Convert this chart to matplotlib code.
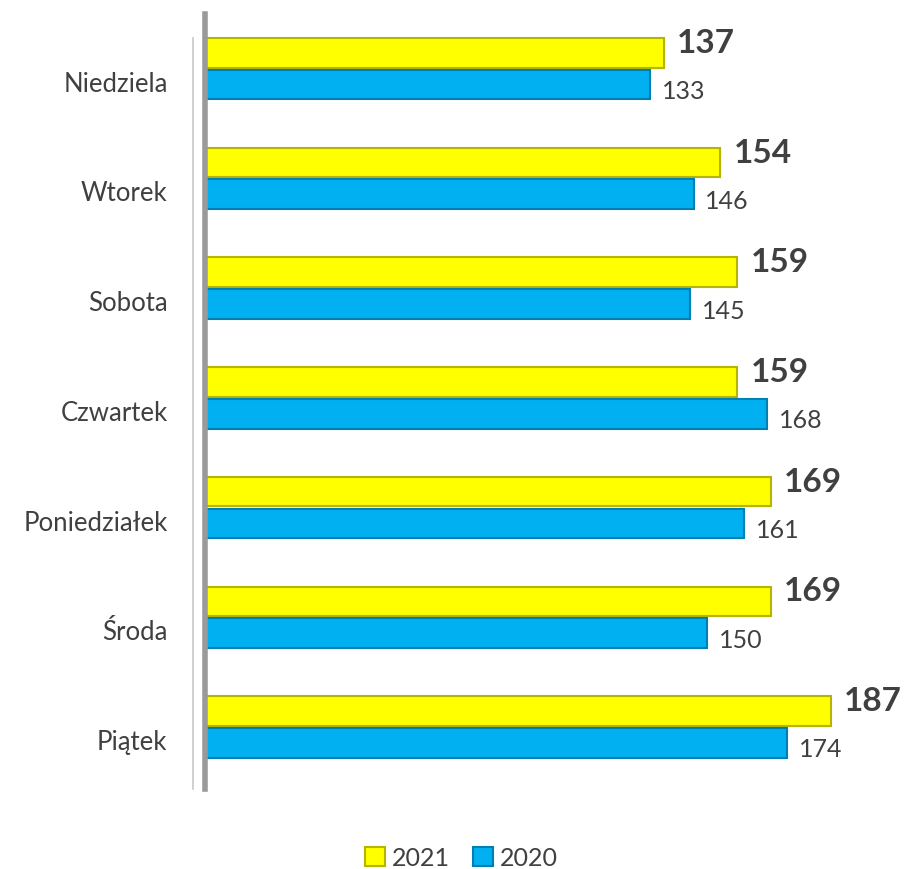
import numpy as np
import matplotlib
matplotlib.use("Agg")
import matplotlib.pyplot as plt
from matplotlib.lines import Line2D

days = ["Niedziela", "Wtorek", "Sobota", "Czwartek", "Poniedziałek", "Środa", "Piątek"]
v2021 = [137, 154, 159, 159, 169, 169, 187]
v2020 = [133, 146, 145, 168, 161, 150, 174]

plt.rcParams["font.family"] = ["Lato", "DejaVu Sans"]
txt = "#404040"
yellow, yellow_edge = "#FFFF00", "#B5B500"
blue, blue_edge = "#00B0F0", "#0080B0"

fig = plt.figure(figsize=(9.08, 8.7), dpi=100)
ax = fig.add_axes([0.2258, 0.092, 0.774, 0.891])

y = np.arange(len(days))
h = 0.27
ax.barh(y - 0.145, v2021, height=h, color=yellow, edgecolor=yellow_edge, linewidth=1.5, label="2021")
ax.barh(y + 0.145, v2020, height=h, color=blue, edgecolor=blue_edge, linewidth=1.5, label="2020")

for i in range(len(days)):
    ax.text(v2021[i] + 4, y[i] - 0.24, str(v2021[i]), fontsize=24, fontweight="bold",
            color=txt, va="center", ha="left")
    ax.text(v2020[i] + 3.5, y[i] + 0.2, str(v2020[i]), fontsize=18,
            color=txt, va="center", ha="left")

ax.set_xlim(0, 210)
ax.set_ylim(6.565, -0.5)
ax.set_xticks([])
ax.set_yticks(y + 0.11)
ax.set_yticklabels(days, fontsize=18.5, color=txt)
ax.tick_params(axis="y", length=0, pad=27)
for s in ["top", "right", "bottom"]:
    ax.spines[s].set_visible(False)
ax.spines["left"].set_color("#9a9a9a")
ax.spines["left"].set_linewidth(4)

# thin back wall line
fig.add_artist(Line2D([0.2125, 0.2125], [0.092, 0.955], color="#c8c8c8", lw=1.2))

leg = fig.legend(loc="lower center", bbox_to_anchor=(0.508, -0.026), ncol=2, frameon=False,
                 fontsize=18, handlelength=0.8, handleheight=0.8, handletextpad=0.3,
                 columnspacing=0.9, labelcolor=txt)

fig.savefig("out.png", dpi=100)
